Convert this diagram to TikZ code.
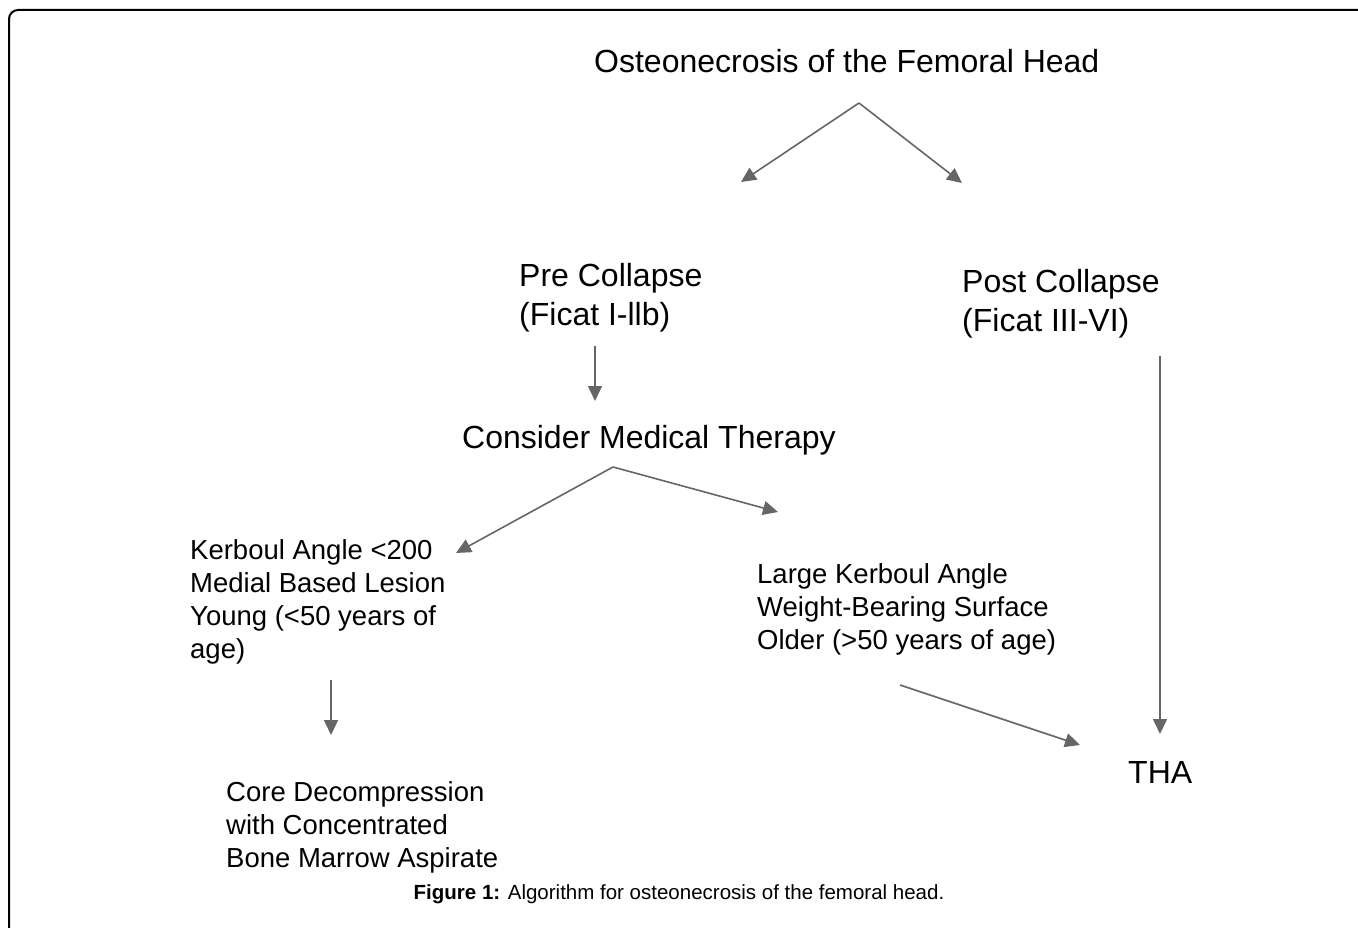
\documentclass[tikz,border=0pt]{standalone}
\usepackage{fontspec}
\setmainfont{Liberation Sans}
\usetikzlibrary{arrows.meta}
\definecolor{arrowgray}{HTML}{666666}
\tikzset{
  conn/.style={draw=arrowgray, line width=1.6pt, -{Triangle[length=15pt,width=14pt]}},
  bigtext/.style={font=\fontsize{32}{39}\selectfont, inner sep=0pt, anchor=base west, align=left},
  midtext/.style={font=\fontsize{27.5}{33}\selectfont, inner sep=0pt, anchor=base west, align=left},
  frameline/.style={draw=black, line width=2pt, rounded corners=9pt},
}
\begin{document}
\begin{tikzpicture}[x=1pt,y=-1pt]
\useasboundingbox (0,0) rectangle (1358,928);
% frame
\draw[frameline] (9,930) -- (9,10) -- (1360,10);
% texts (multi-line nodes: base = last line's baseline)
\node[bigtext] (title) at (594,73) {Osteonecrosis of the Femoral Head};
\node[bigtext] (pre) at (519,325) {Pre Collapse\\(Ficat I-llb)};
\node[bigtext] (post) at (962,331) {Post Collapse\\(Ficat III-VI)};
\node[bigtext] (cmt) at (462,448) {Consider Medical Therapy};
\node[midtext] (kerb) at (190,658) {Kerboul Angle <200\\Medial Based Lesion\\Young (<50 years of\\age)};
\node[midtext] (large) at (757,649) {Large Kerboul Angle\\Weight-Bearing Surface\\Older (>50 years of age)};
\node[midtext] (core) at (226,867) {Core Decompression\\with Concentrated\\Bone Marrow Aspirate};
\node[bigtext] (tha) at (1128,783) {THA};
\node[font=\fontsize{20.5}{24}\selectfont, inner sep=0pt, anchor=base] (cap) at (679,899) {\textbf{Figure 1:} Algorithm for osteonecrosis of the femoral head.};
% connector ends
\coordinate (t0) at (859,103);
\coordinate (t1) at (741,182);
\coordinate (t2) at (962,183);
\coordinate (p0) at (595,346);
\coordinate (p1) at (595,401);
\coordinate (q0) at (1160,356);
\coordinate (q1) at (1160,734);
\coordinate (c0) at (613,467);
\coordinate (c1) at (456,553);
\coordinate (c2) at (778,512);
\coordinate (k0) at (331,680);
\coordinate (k1) at (331,735);
\coordinate (l0) at (900,685);
\coordinate (l1) at (1080,745);
% connectors
\draw[conn] (t0) -- (t1);
\draw[conn] (t0) -- (t2);
\draw[conn] (p0) -- (p1);
\draw[conn] (q0) -- (q1);
\draw[conn] (c0) -- (c1);
\draw[conn] (c0) -- (c2);
\draw[conn] (k0) -- (k1);
\draw[conn] (l0) -- (l1);
\end{tikzpicture}
\end{document}
